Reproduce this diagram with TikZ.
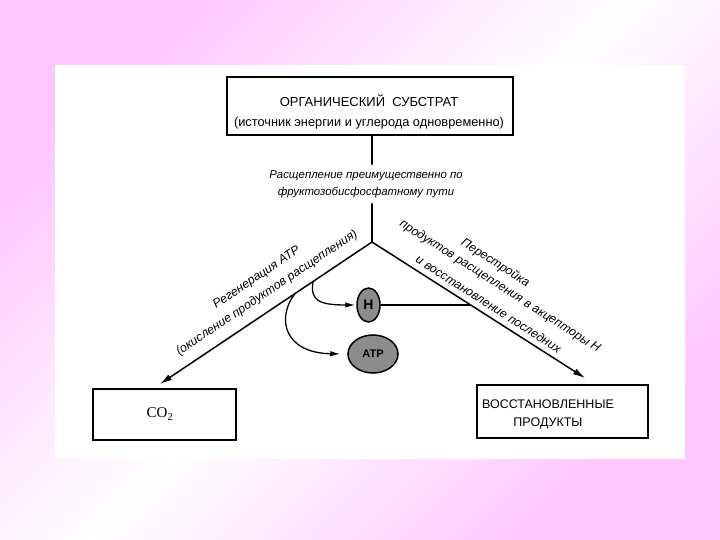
\documentclass[tikz,border=0pt]{standalone}
\usepackage{fontspec}
\setmainfont{Liberation Sans}
\newfontfamily\serifcyr{Liberation Serif}
\usetikzlibrary{arrows.meta,calc,shapes.geometric}
\definecolor{pinkbg}{RGB}{255,198,255}
\tikzset{
  conn/.style={line width=1.5bp, line cap=round},
  arr/.style={line width=1.5bp, -{Latex[length=12bp,width=6.5bp]}},
  smallarr/.style={line width=1.3bp, -{Latex[length=10bp,width=5.5bp]}},
  boxn/.style={draw, line width=1.2bp, inner sep=0pt},
  lab/.style={font=\fontsize{12.3bp}{17bp}\selectfont\itshape, inner sep=0pt, align=center},
  capt/.style={inner sep=0pt, align=center},
  blob/.style={ellipse, draw, line width=1.5bp, fill=black!45, inner sep=0pt}
}
\begin{document}
\begin{tikzpicture}[x=1bp,y=-1bp]
\useasboundingbox (0,0) rectangle (720,540);
\shade[top color=pinkbg, bottom color=pinkbg, middle color=white, shading angle=45] (0,0) rectangle (720,540);
\fill[white] (55,65) rectangle (685,459);

% boxes
\node[boxn, minimum width=286bp, minimum height=58bp] (top) at (370,106) {};
\node[capt, font=\fontsize{13bp}{15bp}\selectfont] (toptext) at (369,112) {ОРГАНИЧЕСКИЙ\ \ СУБСТРАТ\\[5bp]
  \fontsize{12.8bp}{15bp}\selectfont (источник энергии и углерода одновременно)};
\node[boxn, minimum width=143bp, minimum height=51bp] (co2) at (164.5,414.5) {};
\node[capt, font=\serifcyr\fontsize{15bp}{18bp}\selectfont] (co2text) at (160,414) {CO\textsubscript{2}};
\node[boxn, minimum width=171bp, minimum height=53bp] (prod) at (562.5,411.5) {};
\node[capt, font=\fontsize{12.5bp}{18bp}\selectfont] (prodtext) at (548,414) {ВОССТАНОВЛЕННЫЕ\\ПРОДУКТЫ};

% middle label
\node[lab, font=\fontsize{11.4bp}{17bp}\selectfont\itshape, inner ysep=6bp] (split) at (366,184)
  {Расщепление преимущественно по\\фруктозобисфосфатному пути};

% key points
\coordinate (apex) at (372,242);
\coordinate (ltip) at (160,384);
\coordinate (rtip) at (585,378);
\coordinate (c1) at ($(apex)!0.278!(ltip)$);
\coordinate (c2) at ($(apex)!0.363!(ltip)$);
\coordinate (hr) at ($(apex)!0.46!(rtip)$);

% connectors
\draw[conn] (top.south -| apex) -- (split.north -| apex);
\draw[conn] (split.south -| apex) -- (apex);
\draw[arr] (apex) -- (ltip);
\draw[arr] (apex) -- (rtip);

% circles
\node[blob, minimum width=23bp, minimum height=34bp, font=\fontsize{14bp}{14bp}\selectfont\bfseries] (H) at (368.5,305) {H};
\node[blob, minimum width=50bp, minimum height=38bp, font=\fontsize{11bp}{12bp}\selectfont\bfseries] (ATP) at (373,354) {ATP};

\draw[conn] (H.east) -- (H.east -| hr);
\draw[smallarr, shorten >=1bp] (c1) .. controls (310,300) and (318,305) .. (H.west);
\draw[smallarr, shorten >=7bp] (c2) .. controls (276,318) and (284,353) .. (ATP.west);

% rotated labels
\node[lab, font=\fontsize{12.3bp}{18.5bp}\selectfont\itshape, rotate=33.8] (leftlab) at (262,285.5)
  {Регенерация ATP\\(окисление продуктов расщепления)};
\node[lab, rotate=-32.6] (rightlab) at (499.3,287.5)
  {Перестройка\hspace{33bp}\mbox{}\\продуктов расщепления в акцепторы H\\[5bp]и восстановление последних};
\end{tikzpicture}
\end{document}
